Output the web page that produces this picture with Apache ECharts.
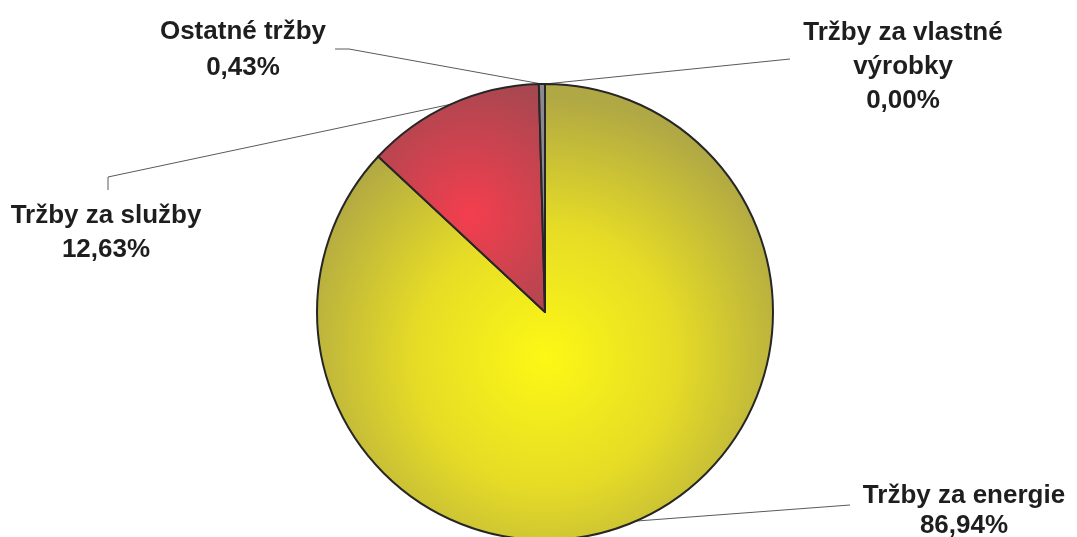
<!DOCTYPE html>
<html>
<head>
<meta charset="utf-8">
<script src="https://cdn.jsdelivr.net/npm/echarts@6/dist/echarts.min.js"></script>
<style>
  html, body { margin: 0; padding: 0; background: #fff; }
  #chart { width: 1077px; height: 537px; }
</style>
</head>
<body>
<div id="chart"></div>
<script>
// podiel tržieb (%)
var categories = ['Tržby za vlastné\nvýrobky', 'Tržby za energie', 'Tržby za služby', 'Ostatné tržby'];
var shares = [0.00, 86.94, 12.63, 0.43];

var CX = 545, CY = 312, R = 228;

// farby jednotlivých výsekov
var fills = [
  '#8c8890',
  { type: 'radial', x: CX, y: CY + 45, r: 260, global: true,
    colorStops: [{ offset: 0, color: '#fdf815' }, { offset: 0.5, color: '#e6dc26' }, { offset: 1, color: '#b0a844' }] },
  { type: 'radial', x: 470, y: 215, r: 150, global: true,
    colorStops: [{ offset: 0, color: '#f43e4e' }, { offset: 1, color: '#a04850' }] },
  '#8c8890'
];

// umiestnenie popisov
var labelPos = [
  { x: 903, y: 67,  lh: 34, line: [[790, 59]] },
  { x: 964, y: 511, lh: 30, line: [[850, 505]] },
  { x: 106, y: 233, lh: 34, line: [[108, 177], [108, 190]] },
  { x: 243, y: 50,  lh: 36, line: [[349, 49], [335, 49]] }
];

var myChart = echarts.init(document.getElementById('chart'));
var option = {
  backgroundColor: '#fff',
  animation: false,
  series: [{
    type: 'pie',
    center: [CX, CY],
    radius: [0, R],
    startAngle: 90,
    clockwise: true,
    avoidLabelOverlap: false,
    itemStyle: { borderColor: '#262626', borderWidth: 2 },
    label: {
      show: true,
      position: 'outside',
      fontFamily: 'Liberation Sans, Arial, sans-serif',
      fontWeight: 'bold',
      fontSize: 26,
      lineHeight: 34,
      color: '#1e1e1e',
      align: 'center',
      formatter: function (p) {
        return p.name + '\n' + p.value.toFixed(2).replace('.', ',') + '%';
      }
    },
    labelLine: { show: true, smooth: false, lineStyle: { color: '#5a5a5a', width: 1 } },
    labelLayout: function (params) {
      var p = labelPos[params.dataIndex];
      var pts = params.labelLinePoints;
      var res = { x: p.x, y: p.y, align: 'center', verticalAlign: 'middle' };
      if (pts && pts.length) {
        res.labelLinePoints = [pts[0]].concat(p.line);
      }
      return res;
    },
    data: categories.map(function (c, i) {
      return {
        name: c,
        value: shares[i],
        itemStyle: { color: fills[i] },
        label: { lineHeight: labelPos[i].lh }
      };
    })
  }]
};
myChart.setOption(option);
</script>
</body>
</html>
